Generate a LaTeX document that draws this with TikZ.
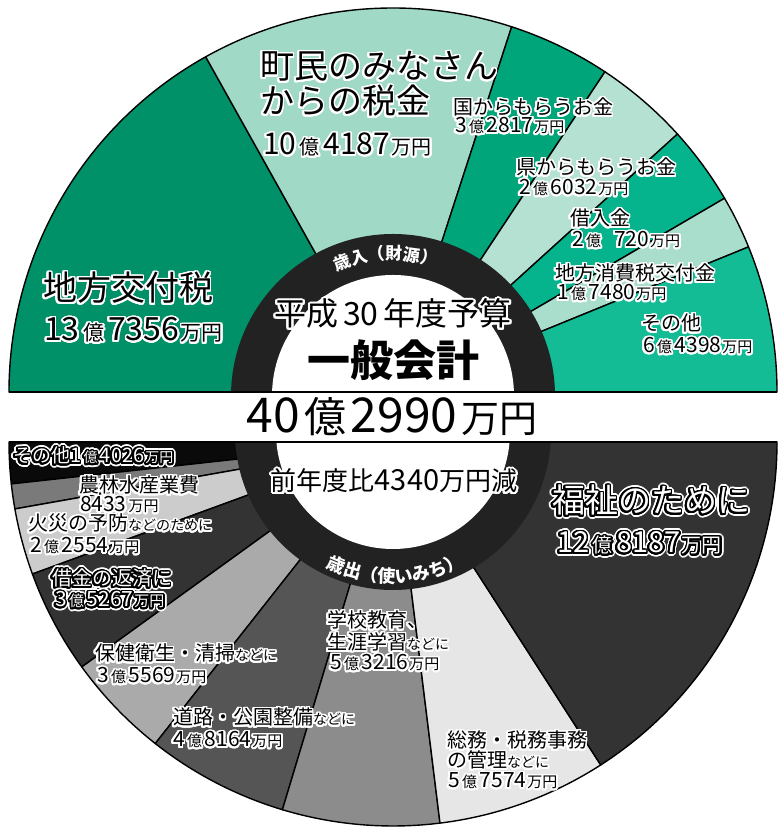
\documentclass[tikz,border=0pt]{standalone}
\usepackage{fontspec}
\setmainfont{Noto Sans CJK JP}
\usepackage[copies]{contour}
\contournumber{32}
\usetikzlibrary{decorations.text}
\definecolor{gA}{HTML}{009168}
\definecolor{gB}{HTML}{A0D9C5}
\definecolor{gC}{HTML}{00A67A}
\definecolor{gD}{HTML}{B4E1D2}
\definecolor{gE}{HTML}{05B48C}
\definecolor{gF}{HTML}{AADECC}
\definecolor{gG}{HTML}{14BC96}
\definecolor{ringc}{HTML}{222222}
\definecolor{kA}{HTML}{0A0A0A}
\definecolor{kB}{HTML}{7A7A7A}
\definecolor{kC}{HTML}{CCCCCC}
\definecolor{kD}{HTML}{333333}
\definecolor{kE}{HTML}{AAAAAA}
\definecolor{kF}{HTML}{555555}
\definecolor{kG}{HTML}{8C8C8C}
\definecolor{kH}{HTML}{E6E6E6}
\definecolor{kI}{HTML}{333333}
\newcommand\fs[1]{\fontsize{#1}{#1}\selectfont}
\newcommand\bk[2][1.8pt]{\contourlength{#1}\contour{white}{#2}}
\newcommand\wt[1]{\rlap{\contourlength{3.4pt}\contour{white}{#1}}\contourlength{1.7pt}\textcolor{white}{\contour{black}{#1}}}
\newcommand\amt[4]{\fs{#3}#1\hspace{0.12em}{\fs{#4}億}\hspace{0.12em}#2\hspace{0.05em}{\fs{#4}万円}}
\newcommand\ringfont{\fontsize{17}{17}\selectfont\bfseries}
\newcommand\ringfontb{\fontsize{18}{18}\selectfont\bfseries}
\newcommand\sector[3]{\filldraw[fill=#1] (0,0) -- (#2:384) arc[start angle=#2, end angle=#3, radius=384] -- cycle;}
\tikzset{
  lbl/.style={anchor=base west, inner sep=0pt, outer sep=0pt},
  ctr/.style={anchor=base, inner sep=0pt, outer sep=0pt},
  edge/.style={draw=black, line width=1.4pt, line join=round}
}
\begin{document}
\begin{tikzpicture}[x=1pt,y=1pt]
\useasboundingbox (0,0) rectangle (778,829);
\fill[white] (0,0) rectangle (778,829);
% ---------- top half (revenue)
\begin{scope}[shift={(393,437)}, edge]
  \sector{gA}{180}{119.2}
  \sector{gB}{119.2}{72}
  \sector{gC}{72}{56.5}
  \sector{gD}{56.5}{42.2}
  \sector{gE}{42.2}{30.3}
  \sector{gF}{30.3}{22.2}
  \sector{gG}{22.2}{0}
\end{scope}
\begin{scope}
  \clip (0,437) rectangle (778,829);
  \fill[ringc] (393,433) circle (162);
  \fill[white] (393,433) circle (121);
\end{scope}
% ---------- bottom half (expenditure)
\begin{scope}[shift={(393,387)}, edge]
  \sector{kA}{180}{186.27}
  \sector{kB}{186.27}{190.04}
  \sector{kC}{190.04}{200.11}
  \sector{kD}{200.11}{215.86}
  \sector{kE}{215.86}{231.75}
  \sector{kF}{231.75}{253.26}
  \sector{kG}{253.26}{277.03}
  \sector{kH}{277.03}{302.75}
  \sector{kI}{302.75}{360}
\end{scope}
\begin{scope}
  \clip (0,0) rectangle (778,387);
  \fill[ringc] (393,397) circle (158);
  \fill[white] (393,397) circle (117);
\end{scope}
\draw[edge] (9,437) -- (777,437);
\draw[edge] (9,387) -- (777,387);
% ---------- ring titles
\begin{scope}[shift={(393,433)}]
  \path[decorate, decoration={text along path, text={|\ringfont|歳入（財源）}, text align=center, text color=white}]
    (134:136) arc[start angle=134, end angle=52, radius=136];
\end{scope}
\begin{scope}[shift={(393,397)}]
  \path[decorate, decoration={text along path, text={|\ringfontb|歳出（使いみち）}, text align=center, text color=white}]
    (229:151) arc[start angle=229, end angle=313, radius=151];
\end{scope}
% ---------- top labels
\node[lbl] (t1) at (260,750) {\bk{\fs{34}町民のみなさん}};
\node[lbl] (t2) at (260,715) {\bk{\fs{34}からの税金}};
\node[lbl] (t3) at (263,674) {\bk{\amt{10}{4187}{30}{20}}};
\node[lbl] (t4) at (43,528) {\bk{\fs{34}地方交付税}};
\node[lbl] (t5) at (44,488) {\bk{\amt{13}{7356}{32}{21}}};
\node[lbl] (t6) at (453,714) {\bk{\fs{20}国からもらうお金}};
\node[lbl] (t7) at (455,696) {\bk{\amt{3}{2817}{21}{15}}};
\node[lbl] (t8) at (516,654) {\bk{\fs{20}県からもらうお金}};
\node[lbl] (t9) at (519,634) {\bk{\amt{2}{6032}{21}{15}}};
\node[lbl] (t10) at (570,603) {\bk{\fs{20}借入金}};
\node[lbl] (t11) at (572,582) {\bk{\amt{2}{\hspace{0.5em}720}{21}{15}}};
\node[lbl] (t12) at (555,548) {\bk{\fs{20}地方消費税交付金}};
\node[lbl] (t13) at (557,529) {\bk{\amt{1}{7480}{21}{15}}};
\node[lbl] (t14) at (641,498) {\bk{\fs{20}その他}};
\node[lbl] (t15) at (643,476) {\bk{\amt{6}{4398}{21}{15}}};
% ---------- centre
\node[ctr] (c1) at (393,503) {\bk[2pt]{\fs{32}平成\hspace{0.15em}30\hspace{0.15em}年度予算}};
\node[ctr] (c2) at (393,452) {\fs{43}\bfseries 一般会計};
\node[ctr] (c3) at (392,396) {\fs{48}40\hspace{0.1em}{\fs{42}億}\hspace{0.08em}2990\hspace{0.08em}{\fs{38}万円}};
\node[ctr] (c4) at (394,338) {\bk[2pt]{\fs{26}前年度比{\fs{29}4340}万円減}};
% ---------- bottom labels
\node[lbl] (b1) at (13,366) {\wt{\fs{19}その他\amt{1}{4026}{20}{14}}};
\node[lbl] (b2) at (79,336) {\bk{\fs{20}農林水産業費}};
\node[lbl] (b3) at (80,317) {\bk{\fs{21}8433\hspace{0.1em}{\fs{15}万円}}};
\node[lbl] (b4) at (28,298) {\bk{\fs{20}火災の予防{\fs{14}などのために}}};
\node[lbl] (b5) at (30,276) {\bk{\amt{2}{2554}{21}{15}}};
\node[lbl] (b6) at (52,243) {\wt{\fs{20}借金の返済に}};
\node[lbl] (b7) at (55,222) {\wt{\amt{3}{5267}{21}{15}}};
\node[lbl] (b8) at (95,168) {\bk{\fs{20}保健衛生・清掃{\fs{14}などに}}};
\node[lbl] (b9) at (97,146) {\bk{\amt{3}{5569}{21}{15}}};
\node[lbl] (b10) at (173,104) {\bk{\fs{20}道路・公園整備{\fs{14}などに}}};
\node[lbl] (b11) at (173,82) {\bk{\amt{4}{8164}{21}{15}}};
\node[lbl] (b12) at (327,201) {\bk{\fs{20}学校教育、}};
\node[lbl] (b13) at (327,179) {\bk{\fs{20}生涯学習{\fs{14}などに}}};
\node[lbl] (b14) at (330,159) {\bk{\amt{5}{3216}{21}{15}}};
\node[lbl] (b15) at (447,81) {\bk{\fs{20}総務・税務事務}};
\node[lbl] (b16) at (447,61) {\bk{\fs{20}の管理{\fs{14}などに}}};
\node[lbl] (b17) at (448,41) {\bk{\amt{5}{7574}{21}{15}}};
\node[lbl] (b18) at (552,316) {\wt{\fs{33}福祉のために}};
\node[lbl] (b19) at (557,276) {\wt{\amt{12}{8187}{29}{20}}};
\end{tikzpicture}
\end{document}
